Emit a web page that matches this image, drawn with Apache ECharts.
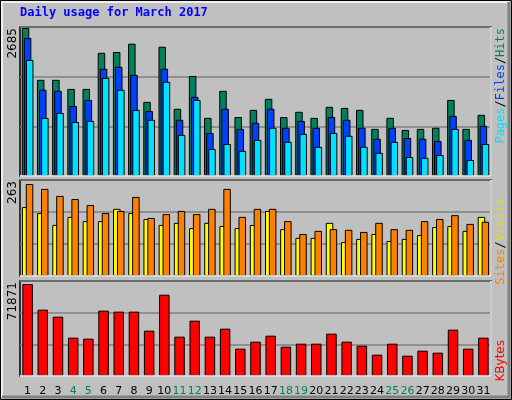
<!DOCTYPE html>
<html><head><meta charset="utf-8">
<script src="https://cdn.jsdelivr.net/npm/echarts@6/dist/echarts.min.js"></script>
<style>html,body{margin:0;padding:0;background:#c0c0c0}#c{width:512px;height:400px}</style>
</head><body><div id="c"></div>
<script>
const days = Array.from({length:31},(_,i)=>String(i+1));
const weekend = ['4','5','11','12','18','19','25','26'];
const hits  = [2685,1745,1745,1580,1580,2235,2250,2400,1345,2345,1220,1815,1055,1545,1070,1200,1400,1070,1165,1055,1255,1235,1200,855,1055,835,855,875,1380,855,1110];
const files = [2505,1565,1545,1270,1380,1945,1980,1835,1180,1945,1020,1435,780,1220,855,965,1220,875,1000,875,1070,1020,875,675,875,690,675,635,1090,655,910];
const pages = [2105,1055,1145,980,1000,1780,1565,1200,1020,1710,745,1380,490,580,455,655,875,620,765,530,780,730,530,420,620,345,330,380,855,290,580];
const sites = [197,180,146,169,157,157,192,180,163,146,152,137,152,143,137,146,186,134,109,109,152,97,106,120,100,106,117,140,143,129,169];
const visits= [263,249,229,220,203,180,186,226,166,177,186,177,192,249,169,192,192,157,120,129,134,132,126,152,134,132,157,163,174,149,155];
const kbytes= [71871,51800,46350,29950,29170,51050,50270,50270,35420,63500,30730,43230,30730,36980,21350,26810,31500,22900,25250,25250,33070,26810,23690,16650,25250,15870,19780,18220,36200,21350,29950];
const maxLabels = ['2685','263','71871'];

const ch = echarts.init(document.getElementById('c'));
const L=20, R=21;
const grids=[{left:L,right:R,top:27,height:149},{left:L,right:R,top:180,height:96},{left:L,right:R,top:281,height:95}];
const maxes=[2685*149/148, 263*96/92, 71871*95/92];
const bs={borderColor:'#000',borderWidth:1};
function xa(i){return {type:'category',gridIndex:i,data:days,boundaryGap:true,
  axisLine:{show:false},axisTick:{show:false},
  axisLabel:{show:i===2,margin:10,fontFamily:'DejaVu Sans',fontSize:11,interval:0,
    color:(v)=>weekend.includes(v)?'#00805f':'#000'}};}
function ya(i){return {type:'value',gridIndex:i,min:0,max:maxes[i],interval:maxes[i]/3,
  axisLabel:{show:false},axisLine:{show:false},axisTick:{show:false},
  splitLine:{show:true,lineStyle:{color:'#808080',width:1.5}}};}
const mono='DejaVu Sans Mono';
ch.setOption({
  backgroundColor:'#c0c0c0',animation:false,
  grid:grids.map(g=>Object.assign({show:true,backgroundColor:'#c0c0c0',borderColor:'#000',borderWidth:1.5},g)),
  xAxis:[xa(0),xa(1),xa(2)],
  yAxis:[ya(0),ya(1),ya(2)],
  series:[
    {type:'bar',xAxisIndex:0,yAxisIndex:0,data:hits,barWidth:7.5,barGap:'-72%',itemStyle:Object.assign({color:'#00805c'},bs)},
    {type:'bar',xAxisIndex:0,yAxisIndex:0,data:files,barWidth:7.5,barGap:'-72%',itemStyle:Object.assign({color:'#0040ff'},bs)},
    {type:'bar',xAxisIndex:0,yAxisIndex:0,data:pages,barWidth:7.5,barGap:'-72%',itemStyle:Object.assign({color:'#00e0ff'},bs)},
    {type:'bar',xAxisIndex:1,yAxisIndex:1,data:sites,barWidth:7.5,barGap:'-48%',itemStyle:Object.assign({color:'#ffff00'},bs)},
    {type:'bar',xAxisIndex:1,yAxisIndex:1,data:visits,barWidth:7.5,barGap:'-48%',itemStyle:Object.assign({color:'#ff8000'},bs)},
    {type:'bar',xAxisIndex:2,yAxisIndex:2,data:kbytes,barWidth:10.5,itemStyle:Object.assign({color:'#ff0000'},bs)}
  ],
  graphic:[
    {type:'rect',shape:{x:0.5,y:0.5,width:511,height:399},style:{fill:null,stroke:'#000',lineWidth:1},z:100},
    {type:'polyline',shape:{points:[[2,397],[2,2],[509,2]]},style:{stroke:'#fff',lineWidth:1.5,fill:null},z:100},
    {type:'polyline',shape:{points:[[509,2],[509,397],[2,397]]},style:{stroke:'#808080',lineWidth:3,fill:null},z:100},
    {type:'text',left:20,top:7,style:{text:'Daily usage for March 2017',fill:'#0000ff',font:'bold 12px "DejaVu Sans Mono"'}},
    {type:'polyline',shape:{points:[[491,27],[491,176],[20,176]]},style:{stroke:'#fff',lineWidth:1.5,fill:null},z:50},
    {type:'polyline',shape:{points:[[491,180],[491,276],[20,276]]},style:{stroke:'#fff',lineWidth:1.5,fill:null},z:50},
    {type:'polyline',shape:{points:[[491,281],[491,376],[20,376]]},style:{stroke:'#fff',lineWidth:1.5,fill:null},z:50},
    {type:'text',x:7,y:28,rotation:Math.PI/2,style:{text:maxLabels[0],fill:'#000',font:'12px "DejaVu Sans"',align:'right',verticalAlign:'top'}},
    {type:'text',x:7,y:181,rotation:Math.PI/2,style:{text:maxLabels[1],fill:'#000',font:'12px "DejaVu Sans"',align:'right',verticalAlign:'top'}},
    {type:'text',x:7,y:282,rotation:Math.PI/2,style:{text:maxLabels[2],fill:'#000',font:'12px "DejaVu Sans"',align:'right',verticalAlign:'top'}},
    {type:'text',x:495,y:28,rotation:Math.PI/2,style:{text:'{p|Pages}{s|/}{f|Files}{s|/}{h|Hits}',align:'right',verticalAlign:'top',font:'12px "DejaVu Sans Mono"',
      rich:{p:{fill:'#00e0ff',font:'12px "DejaVu Sans Mono"'},f:{fill:'#0040ff',font:'12px "DejaVu Sans Mono"'},h:{fill:'#00805c',font:'12px "DejaVu Sans Mono"'},s:{fill:'#000',font:'12px "DejaVu Sans Mono"'}}}},
    {type:'text',x:495,y:198,rotation:Math.PI/2,style:{text:'{a|Sites}{s|/}{v|Visits}',align:'right',verticalAlign:'top',font:'12px "DejaVu Sans Mono"',
      rich:{a:{fill:'#ff8000',font:'12px "DejaVu Sans Mono"'},v:{fill:'#e0e000',font:'12px "DejaVu Sans Mono"'},s:{fill:'#000',font:'12px "DejaVu Sans Mono"'}}}},
    {type:'text',x:495,y:340,rotation:Math.PI/2,style:{text:'KBytes',align:'right',verticalAlign:'top',fill:'#ff0000',font:'12px "DejaVu Sans"'}}
  ]
});
</script></body></html>
